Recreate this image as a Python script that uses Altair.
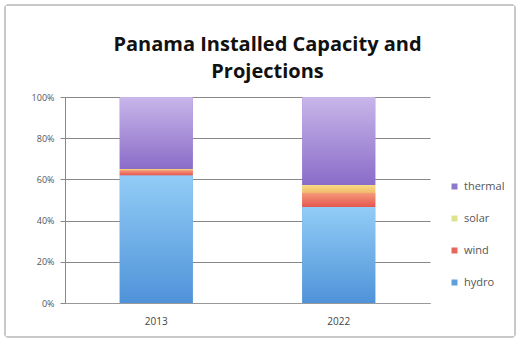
import altair as alt
import pandas as pd

years = ["2013", "2022"]
sources = ["hydro", "wind", "solar", "thermal"]
hydro = [62.0, 46.6]
wind = [2.5, 6.8]
solar = [0.5, 3.9]
thermal = [35.0, 42.7]

rows = []
for i, y in enumerate(years):
    for k, (s, vals) in enumerate(zip(sources, [hydro, wind, solar, thermal])):
        rows.append({"year": y, "source": s, "value": vals[i], "order": k})
df = pd.DataFrame(rows)

legend_domain = ["thermal", "solar", "wind", "hydro"]
legend_range = ["#8c78cc", "#dfe28c", "#e8675c", "#5f9fdc"]

grads = {
    "hydro": ("#92cdf7", "#4f92d8"),
    "wind": ("#f59a78", "#e4564f"),
    "solar": ("#f8dc86", "#f0b868"),
    "thermal": ("#c9b6ea", "#8a6cc8"),
}

base = alt.Chart(df).transform_stack(
    stack="value", groupby=["year"], sort=[alt.SortField("order", "ascending")],
    as_=["y0", "y1"], offset="normalize"
)

xenc = alt.X("year:N", title=None,
             scale=alt.Scale(paddingInner=0.6, paddingOuter=0.3),
             axis=alt.Axis(labelAngle=0, labelFontSize=10, labelColor="#444444",
                           labelFont="Open Sans", ticks=False, labelPadding=13,
                           domainColor="#999999"))
yenc = alt.Y("y0:Q", title=None,
             scale=alt.Scale(domain=[0, 1]),
             axis=alt.Axis(format="%", values=[0, 0.2, 0.4, 0.6, 0.8, 1.0],
                           labelFontSize=9, labelColor="#555555", labelFont="Open Sans",
                           tickSize=5, tickColor="#888888", labelPadding=6,
                           gridColor="#888888", domainColor="#888888"))

flat = base.mark_bar().encode(
    x=xenc, y=yenc, y2="y1:Q",
    color=alt.Color("source:N",
                    scale=alt.Scale(domain=legend_domain, range=legend_range),
                    legend=alt.Legend(title=None, orient="none", legendX=384, legendY=84,
                                      symbolType="square", symbolSize=36,
                                      labelFontSize=11, labelColor="#555555",
                                      labelFont="Open Sans", rowPadding=20,
                                      symbolStrokeWidth=0)),
)

layers = [flat]
for s in sources:
    top, bot = grads[s]
    layers.append(
        base.transform_filter(alt.datum.source == s).mark_bar(
            color=alt.Gradient(gradient="linear",
                               stops=[alt.GradientStop(color=top, offset=0),
                                      alt.GradientStop(color=bot, offset=1)],
                               x1=0, x2=0, y1=0, y2=1)
        ).encode(x=xenc, y=yenc, y2="y1:Q")
    )

frame = alt.Chart(df).mark_rect(fill=None, stroke="#c8c8c8", strokeWidth=1, cornerRadius=3).encode(
    x=alt.value(-60), x2=alt.value(450), y=alt.value(-92), y2=alt.value(240)
)

chart = alt.layer(frame, *layers).properties(
    width=365, height=206,
    title=alt.TitleParams(["Panama Installed Capacity and", "Projections"],
                          fontSize=20, font="Open Sans", fontWeight="bold",
                          lineHeight=27, anchor="middle", dx=20, dy=85, offset=8,
                          color="#111111"),
    autosize=alt.AutoSizeParams(type="none"),
    padding={"left": 65, "top": 97, "right": 92, "bottom": 42},
).configure_view(stroke=None)

chart.save("out.html", embed_options={"renderer": "svg", "actions": False})
